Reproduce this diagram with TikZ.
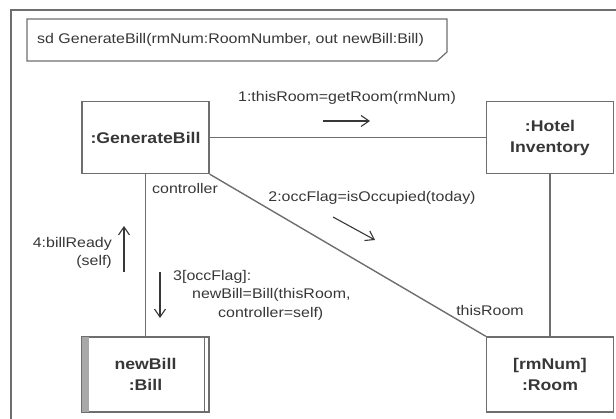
\documentclass[tikz,border=0pt]{standalone}
\usepackage{fontspec}
\setmainfont{Liberation Sans}[FakeStretch=1.14]
\usetikzlibrary{arrows.meta}
\begin{document}
\begin{tikzpicture}[x=1pt,y=-1pt,
  obj/.style={draw=lineclr, line width=1.4pt, minimum width=127pt, minimum height=72pt,
    inner sep=0pt, align=center, font=\fontsize{15.5}{21}\selectfont\bfseries, text=txtclr},
  lbl/.style={font=\fontsize{14}{18.5}\selectfont, text=txtclr, inner sep=0pt},
  link/.style={draw=lineclr, line width=1.4pt},
  msg/.style={draw=txtclr, line width=1.1pt, -{Straight Barb[length=8pt,width=11pt]}}]
\definecolor{lineclr}{RGB}{110,110,110}
\definecolor{txtclr}{RGB}{55,55,55}
\useasboundingbox (0,0) rectangle (616,419);
% frame and its heading
\draw[lineclr, line width=1.6pt] (11,420) -- (11,10) -- (617,10);
\draw[lineclr, line width=1.2pt] (27,19) -- (447,19) -- (447,52) -- (437,61) -- (27,61) -- cycle;
\node[lbl, anchor=west] (title) at (37,40) {sd GenerateBill(rmNum:RoomNumber, out newBill:Bill)};
% objects
\node[obj] (gen) at (145.5,137.5) {:GenerateBill};
\node[obj] (inv) at (550,137.5) {:Hotel\\Inventory};
\node[obj, minimum height=75pt] (bill) at (145.5,374.5) {newBill\\:Bill};
\node[obj, minimum height=75pt] (room) at (550,374.5) {[rmNum]\\:Room};
% active object bars
\fill[lineclr!60] ([xshift=0.7pt,yshift=-0.7pt]bill.north west) rectangle ([xshift=8pt,yshift=0.7pt]bill.south west);
\draw[lineclr, line width=1pt] ([xshift=-5pt]bill.north east) -- ([xshift=-5pt]bill.south east);
% links
\draw[link] (gen) -- (inv);
\draw[link] (gen) -- (bill);
\draw[link] (inv) -- (room);
\draw[link] (gen.south east) -- (room.north west);
% messages
\node[lbl] (m1) at (347,98) {1:thisRoom=getRoom(rmNum)};
\coordinate (m1a) at (323,121); \coordinate (m1b) at (370,121);
\draw[msg] (m1a) -- (m1b);
\node[lbl] (m2) at (372,198) {2:occFlag=isOccupied(today)};
\coordinate (m2a) at (333,217); \coordinate (m2b) at (375,240);
\draw[msg] (m2a) -- (m2b);
\node[lbl, anchor=east, align=right] (m4) at (112,253) {4:billReady\\(self)};
\coordinate (m4a) at (124,272); \coordinate (m4b) at (124,226);
\draw[msg] (m4a) -- (m4b);
\node[lbl, anchor=north west, align=left] (m3) at (173,270) {3[occFlag]:\\\hspace*{19pt}newBill=Bill(thisRoom,\\\hspace*{45pt}controller=self)};
\coordinate (m3a) at (160,272); \coordinate (m3b) at (160,318);
\draw[msg] (m3a) -- (m3b);
% role names
\node[lbl, anchor=west] (ctl) at (152,188) {controller};
\node[lbl] (role) at (490,310) {thisRoom};
\end{tikzpicture}
\end{document}
